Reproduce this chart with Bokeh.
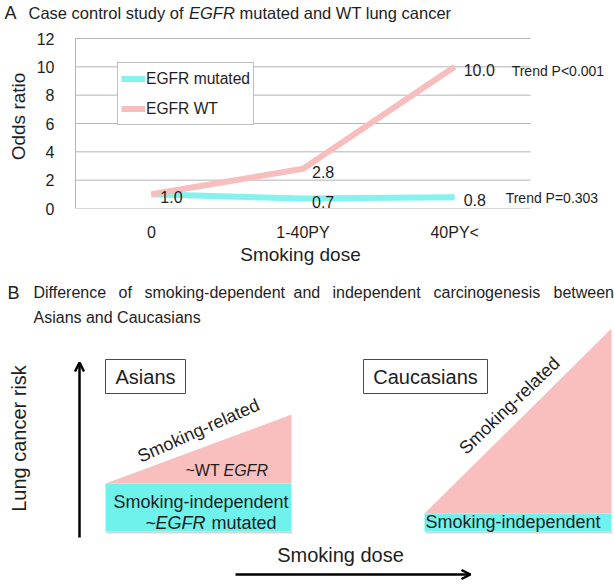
import math
from bokeh.plotting import figure
from bokeh.models import (Range1d, FixedTicker, Label, LabelSet, ColumnDataSource,
                          Arrow, OpenHead, Legend)
from bokeh.embed import file_html
from bokeh.resources import INLINE
from bokeh.core.properties import value

# ---------------- Panel A data ----------------
categories = ["0", "1-40PY", "40PY<"]
or_mutated = [1.0, 0.7, 0.8]
or_wt = [1.0, 2.8, 10.0]
y_ticks = [0, 2, 4, 6, 8, 10, 12]
trend_mutated = "Trend P=0.303"
trend_wt = "Trend P<0.001"

# ---------------- Panel B schematic values ----------------
populations = ["Asians", "Caucasians"]
independent_risk = [48, 18]
smoking_related_risk = [69, 185]

FONT = "Liberation Sans"


def fs(px):
    return f"{px:.1f}px"


CYAN_LINE = "#84F2EF"
PINK_LINE = "#F8BDBD"
CYAN_FILL = "#6FF2EC"
PINK_FILL = "#F9BFBF"
GRID = "#B4B4B4"
TXT = "#1e1e1e"

W = 614
HT = 24          # title strip of panel A
HA = 219         # panel A chart
HB = 338         # panel B schematic
A_TOP = HT       # page row where the chart of panel A starts
B_TOP = HT + HA  # page row where panel B starts

# ======================= Panel A title strip =======================
pt = figure(width=W, height=HT, output_backend="svg", toolbar_location=None,
            x_range=Range1d(0, W), y_range=Range1d(HT, 0),
            x_axis_type=None, y_axis_type=None,
            min_border=0, min_border_left=0, min_border_right=0,
            min_border_top=0, min_border_bottom=0)
pt.outline_line_color = None
pt.grid.visible = False
for txt, px, style, size in [("A", 4, "normal", 18),
                             ("Case control study of", 28, "normal", 16.5),
                             ("EGFR", 188.5, "italic", 16.5),
                             ("mutated and WT lung cancer", 239, "normal", 16.5)]:
    pt.add_layout(Label(x=px, y=12, text=txt, text_baseline="middle",
                        text_font=FONT, text_font_style=style,
                        text_font_size=fs(size), text_color=TXT))

# ======================= Panel A chart =======================
xs = list(range(len(categories)))
FL, FB = 75, 35           # frame left / bottom border (px)
XU = 455 / 3              # px per category
YU = 170 / 12             # px per odds-ratio unit
frame_h = HA - FB
pa = figure(width=W, height=HA, output_backend="svg", toolbar_location=None,
            x_range=Range1d(-0.5, -0.5 + (W - FL) / XU),
            y_range=Range1d(0, frame_h / YU),
            min_border_left=FL, min_border_right=0,
            min_border_top=0, min_border_bottom=FB)
pa.outline_line_color = None
pa.grid.visible = False

# horizontal gridlines across the category span
pa.segment(x0=-0.5, x1=len(categories) - 0.5, y0=y_ticks, y1=y_ticks,
           line_color=GRID, line_width=1)

pa.yaxis.ticker = FixedTicker(ticks=y_ticks)
pa.yaxis.bounds = (y_ticks[0], y_ticks[-1])
pa.yaxis.axis_line_color = GRID
pa.yaxis.major_tick_line_color = None
pa.yaxis.minor_tick_line_color = None
pa.yaxis.major_tick_out = 0
pa.yaxis.major_tick_in = 0
pa.yaxis.minor_tick_out = 0
pa.yaxis.major_label_standoff = 21
pa.yaxis.axis_label = "Odds ratio"
pa.yaxis.axis_label_standoff = 5

pa.xaxis.ticker = FixedTicker(ticks=xs)
pa.xaxis.major_label_overrides = {i: c for i, c in zip(xs, categories)}
pa.xaxis.axis_line_color = None
pa.xaxis.major_tick_line_color = None
pa.xaxis.minor_tick_line_color = None
pa.xaxis.major_tick_out = 0
pa.xaxis.major_tick_in = 0
pa.xaxis.minor_tick_out = 0
pa.xaxis.major_label_standoff = 15

for ax_ in (pa.xaxis, pa.yaxis):
    ax_.major_label_text_font = FONT
    ax_.major_label_text_font_size = fs(16)
    ax_.major_label_text_color = TXT
    ax_.axis_label_text_font = FONT
    ax_.axis_label_text_font_size = fs(19)
    ax_.axis_label_text_font_style = "normal"
    ax_.axis_label_text_color = TXT

r_mut = pa.line(xs, or_mutated, line_color=CYAN_LINE, line_width=6)
r_wt = pa.line(xs, or_wt, line_color=PINK_LINE, line_width=6)

legend = Legend(items=[("EGFR mutated", [r_mut]), ("EGFR WT", [r_wt])],
                location=(42, 83), orientation="vertical",
                border_line_color="#7f7f7f", border_line_width=1,
                background_fill_color="white", background_fill_alpha=1,
                label_text_font=FONT, label_text_font_size=fs(15.6),
                label_text_color=TXT,
                glyph_width=24, glyph_height=25, label_height=25,
                label_standoff=1, padding=3, spacing=5, margin=0)
pa.add_layout(legend)

lab_vals = or_mutated + or_wt[1:]
lab_src = ColumnDataSource(dict(x=xs + xs[1:], y=lab_vals,
                                text=[f"{v:.1f}" for v in lab_vals]))
pa.add_layout(LabelSet(x="x", y="y", text="text", source=lab_src,
                       x_offset=9, y_offset=-3, text_baseline="middle",
                       text_font=value(FONT), text_font_size=value(fs(16)),
                       text_color=TXT))

pa.add_layout(Label(x=xs[-1], y=or_wt[-1], text=trend_wt, x_offset=57, y_offset=-4,
                    text_baseline="middle", text_font=FONT,
                    text_font_size=fs(14), text_color=TXT))
pa.add_layout(Label(x=xs[-1], y=or_mutated[-1], text=trend_mutated, x_offset=51,
                    y_offset=-1, text_baseline="middle", text_font=FONT,
                    text_font_size=fs(14), text_color=TXT))

# ======================= Panel B =======================
BASE = 531  # page row of the schematic baseline


def by(py):
    return BASE - py


pb = figure(width=W, height=HB, output_backend="svg", toolbar_location=None,
            x_range=Range1d(0, W),
            y_range=Range1d(by(B_TOP + HB), by(B_TOP)),
            x_axis_type=None, y_axis_type=None,
            min_border=0, min_border_left=0, min_border_right=0,
            min_border_top=0, min_border_bottom=0)
pb.outline_line_color = None
pb.grid.visible = False

panel_left = [105, 424]
panel_right = [291, 611]

# faint drop shadow under the smoking-independent bands
pb.quad(left=[l + 1 for l in panel_left], right=[r + 1 for r in panel_right],
        bottom=[-2] * len(populations), top=[0] * len(populations),
        fill_color="#d6d6d6", line_color=None)
pb.quad(left=panel_left, right=panel_right, bottom=[0] * len(populations),
        top=independent_risk, fill_color=CYAN_FILL, line_color=None)
pb.patches(xs=[[l, r, r] for l, r in zip(panel_left, panel_right)],
           ys=[[i, i, i + s] for i, s in zip(independent_risk, smoking_related_risk)],
           fill_color=PINK_FILL, line_color=None)

box_cx = [145, 425]
box_w = [80, 124]
pb.rect(x=box_cx, y=[by(376)] * 2, width=box_w, height=34,
        fill_color="white", line_color="#4a4a4a", line_width=1)


def lab(txt, x, y, size, align="left", style="normal", angle=0.0):
    pb.add_layout(Label(x=x, y=by(y), text=txt, text_align=align,
                        text_baseline="middle", text_font=FONT,
                        text_font_style=style, text_font_size=fs(size),
                        text_color=TXT, angle=angle))


for name, cx in zip(populations, box_cx):
    lab(name, cx, 376, 20, align="center")

pb.add_layout(Arrow(end=OpenHead(size=9, line_width=2.5, line_color="black"),
                    x_start=79, y_start=by(537), x_end=79, y_end=by(362),
                    line_width=2.5, line_color="black"))
pb.add_layout(Arrow(end=OpenHead(size=9, line_width=2.5, line_color="black"),
                    x_start=235, y_start=by(574), x_end=470, y_end=by(574),
                    line_width=2.5, line_color="black"))

# x-axis title of panel A (sits just below its tick labels)
lab("Smoking dose", 300, 254, 19, align="center")

lab("B", 7, 292, 18)
title_words = ["Difference", "of", "smoking-dependent", "and", "independent",
               "carcinogenesis", "between"]
word_left = [33, 118, 144, 293, 332, 433, 553]
for w_, x_ in zip(title_words, word_left):
    lab(w_, x_, 292, 16)
lab("Asians and Caucasians", 33, 317, 16)

lab("Lung cancer risk", 18, 438, 20, align="center", angle=math.pi / 2)
lab("Smoking dose", 340, 554, 20, align="center")

lab("Smoking-related", 198, 430, 18, align="center", angle=math.radians(24))
lab("Smoking-related", 509, 405, 18, align="center", angle=math.radians(43.8))

lab("~WT", 185, 470, 16)
lab("EGFR", 223, 470, 16, style="italic")
lab("Smoking-independent", 113, 501, 18)
lab("~", 145, 522, 18)
lab("EGFR", 155, 522, 18, style="italic")
lab("mutated", 211, 522, 18)
lab("Smoking-independent", 425, 521, 18)

open("out.html", "w").write(file_html([pt, pa, pb], INLINE))
